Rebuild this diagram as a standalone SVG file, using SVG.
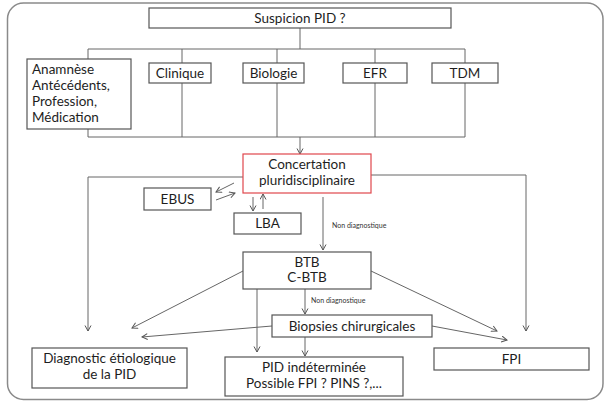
<svg xmlns="http://www.w3.org/2000/svg" width="611" height="404" viewBox="0 0 611 404">
<defs>
<marker id="arr" markerWidth="8" markerHeight="8" refX="6" refY="3.5" orient="auto" markerUnits="userSpaceOnUse">
<path d="M0.5,0.5 L6,3.5 L0.5,6.5" fill="none" stroke="#555" stroke-width="1"/>
</marker>
<style>
.box{fill:#fff;stroke:#555;stroke-width:1.2}
.red{fill:#fff;stroke:#e0474c;stroke-width:1.2}
.t{font-family:Lato,"Open Sans",sans-serif;font-size:13.5px;fill:#1e1e1e;text-anchor:middle}
.tl{text-anchor:start}
.s{font-family:Lato,"Open Sans",sans-serif;font-size:7px;fill:#333}
.c path{fill:none;stroke:#666;stroke-width:1}
.c .a{marker-end:url(#arr)}
</style>
</defs>
<rect width="611" height="404" fill="#fff"/>
<rect x="7.5" y="3" width="595.5" height="396.5" rx="16" fill="none" stroke="#8a8a8a" stroke-width="1.5"/>
<g class="c" id="connectors">
<path d="M300,28 V49 M88,49 H465 M88,49 V59 M182,49 V63 M277,49 V63 M375,49 V63 M465,49 V63"/>
<path d="M88,129 V137 H465 M182,83 V137 M277,83 V137 M375,83 V137 M465,83 V137"/>
<path class="a" d="M300,137 V154"/>
<path class="a" d="M243,177 H88 V331"/>
<path class="a" d="M371,175 H526 V331"/>
<path class="a" d="M234,183 L216,192"/>
<path class="a" d="M216,200 L235,193"/>
<path class="a" d="M253,197 V211"/>
<path class="a" d="M263,209 V194"/>
<path class="a" d="M323,197 V250"/>
<path class="a" d="M243,271 L132,328"/>
<path class="a" d="M371,271 L497,331"/>
<path class="a" d="M257,289 V352"/>
<path class="a" d="M305,289 V314"/>
<path class="a" d="M272,326 L142,337"/>
<path class="a" d="M432,326 L507,340"/>
<path class="a" d="M305,337 V356"/>
<text class="s" x="332" y="227.5">Non diagnostique</text>
<text class="s" x="311" y="303">Non diagnostique</text>
</g>
<g id="suspicion"><rect class="box" x="149" y="8" width="302" height="20"/><text class="t" x="300" y="22.5">Suspicion PID ?</text></g>
<g id="anamnese"><rect class="box" x="27" y="59" width="104" height="70"/>
<text class="t tl" x="32" y="74">Anamnèse</text>
<text class="t tl" x="32" y="90">Antécédents,</text>
<text class="t tl" x="32" y="106">Profession,</text>
<text class="t tl" x="32" y="122">Médication</text></g>
<g id="clinique"><rect class="box" x="149" y="63" width="62" height="20"/><text class="t" x="180" y="77.5">Clinique</text></g>
<g id="biologie"><rect class="box" x="243" y="63" width="61" height="20"/><text class="t" x="273.5" y="77.5">Biologie</text></g>
<g id="efr"><rect class="box" x="343" y="63" width="64" height="20"/><text class="t" x="375" y="77.5">EFR</text></g>
<g id="tdm"><rect class="box" x="432" y="63" width="66" height="20"/><text class="t" x="465" y="77.5">TDM</text></g>
<g id="concertation"><rect class="red" x="243" y="154" width="128" height="39"/>
<text class="t" x="307" y="169">Concertation</text>
<text class="t" x="307" y="185">pluridisciplinaire</text></g>
<g id="ebus"><rect class="box" x="144" y="188" width="67" height="22"/><text class="t" x="177.5" y="203.5">EBUS</text></g>
<g id="lba"><rect class="box" x="234" y="213" width="67" height="21"/><text class="t" x="267.5" y="228">LBA</text></g>
<g id="btb"><rect class="box" x="243" y="252" width="128" height="37"/>
<text class="t" x="307" y="267">BTB</text>
<text class="t" x="307" y="282">C-BTB</text></g>
<g id="biopsies"><rect class="box" x="272" y="315" width="160" height="22"/><text class="t" x="352" y="330.5">Biopsies chirurgicales</text></g>
<g id="diagnostic"><rect class="box" x="32" y="348" width="155" height="40"/>
<text class="t" x="109.5" y="363">Diagnostic étiologique</text>
<text class="t" x="109.5" y="379">de la PID</text></g>
<g id="pid"><rect class="box" x="225" y="357" width="178" height="39"/>
<text class="t" x="314" y="372">PID indéterminée</text>
<text class="t" x="314" y="388">Possible FPI ? PINS ?,...</text></g>
<g id="fpi"><rect class="box" x="434" y="348" width="155" height="22"/><text class="t" x="511.5" y="363.5">FPI</text></g>
</svg>
